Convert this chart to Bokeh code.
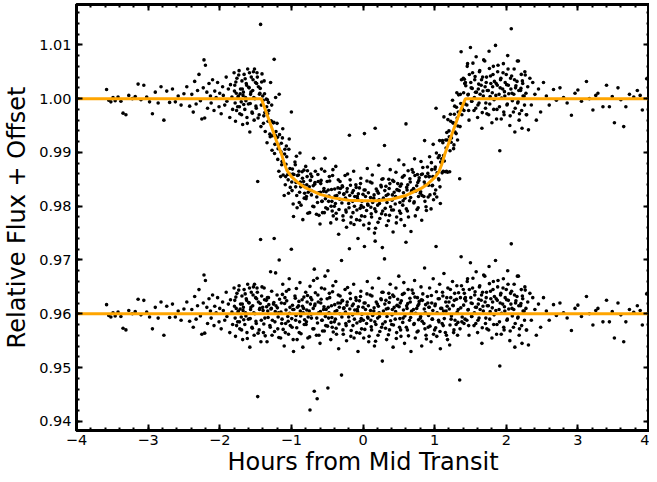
from bokeh.plotting import figure
from bokeh.models import Range1d, LinearAxis, FixedTicker
from bokeh.embed import file_html
from bokeh.resources import INLINE

# ---------------- data ----------------
# block A: sparse pre-transit
time_a = [-3.58,-3.55,-3.52,-3.49,-3.46,-3.42,-3.38,-3.35,-3.31,-3.27,-3.22,-3.18,-3.14,-3.10,-3.06,-3.02,
          -2.98,-2.94,-2.90,-2.86,-2.82,-2.78,-2.74,-2.70,-2.66,-2.62,-2.58,-2.54,-2.50,-2.46,-2.42]
flux_a = [1.0017,0.9997,0.9994,1.0002,0.9996,1.0003,0.9995,0.9973,0.9970,1.0006,1.0000,1.0004,1.0027,0.9998,1.0025,1.0003,
          0.9994,0.9972,1.0012,0.9992,1.0022,0.9960,1.0014,0.9993,1.0018,0.9994,1.0005,0.9988,1.0009,1.0022,0.9986]
resid_a = [0.9617,0.9597,0.9594,0.9602,0.9596,0.9603,0.9595,0.9573,0.9570,0.9606,0.9600,0.9604,0.9627,0.9598,0.9625,0.9603,
           0.9594,0.9572,0.9612,0.9592,0.9622,0.9560,0.9614,0.9593,0.9618,0.9594,0.9605,0.9588,0.9609,0.9622,0.9586]

# block B: pre-transit
time_b = [-2.39,-2.37,-2.35,-2.33,-2.31,-2.29,-2.27,-2.25,-2.23,-2.22,-2.21,-2.20,-2.18,-2.17,-2.15,-2.13,-2.12,-2.10,
          -2.08,-2.07,-2.05,-2.03,-2.01,-2.00,-1.98,-1.96,-1.95,-1.93,-1.91,-1.90,-1.88,-1.86,-1.85,-1.83,-1.82,-1.80]
flux_b = [1.0008,0.9975,1.0032,0.9990,1.0015,1.0045,0.9996,0.9962,1.0020,1.0072,0.9964,1.0062,1.0012,0.9982,1.0028,1.0005,0.9992,1.0035,
          0.9978,1.0014,1.0002,1.0030,0.9985,1.0010,0.9972,1.0022,1.0006,0.9988,1.0040,0.9995,1.0018,0.9965,1.0026,1.0003,0.9980,1.0048]
resid_b = [0.9608,0.9575,0.9632,0.9590,0.9615,0.9645,0.9596,0.9562,0.9620,0.9672,0.9564,0.9662,0.9612,0.9582,0.9628,0.9605,0.9592,0.9635,
           0.9578,0.9614,0.9602,0.9630,0.9585,0.9610,0.9572,0.9622,0.9606,0.9588,0.9640,0.9595,0.9618,0.9565,0.9626,0.9603,0.9580,0.9648]

# block C: just before ingress
time_c = [-1.79,-1.78,-1.77,-1.76,-1.75,-1.74,-1.73,-1.72,-1.71,-1.70,-1.69,-1.68,-1.67,-1.66,-1.65,-1.64,-1.63,-1.62,-1.61,-1.60,
          -1.59,-1.58,-1.57,-1.56,-1.55,-1.54,-1.53,-1.52,-1.51,-1.50,-1.49,-1.48,-1.47,-1.46,-1.45,-1.44,-1.43,-1.42,-1.41]
flux_c = [1.0025,0.9958,1.0010,1.0038,0.9985,1.0005,1.0052,0.9972,1.0018,0.9994,1.0033,0.9952,1.0012,1.0045,0.9980,1.0002,1.0028,0.9965,1.0055,0.9990,
          1.0020,0.9938,1.0008,1.0040,0.9975,1.0015,1.0050,0.9960,1.0000,1.0030,0.9982,1.0048,0.9846,1.0022,0.9970,1.0010,1.0138,0.9988,1.0046]
resid_c = [0.9625,0.9558,0.9610,0.9638,0.9585,0.9605,0.9652,0.9572,0.9618,0.9594,0.9633,0.9552,0.9612,0.9645,0.9580,0.9602,0.9628,0.9565,0.9655,0.9590,
           0.9620,0.9538,0.9608,0.9640,0.9575,0.9615,0.9650,0.9560,0.9600,0.9630,0.9582,0.9648,0.9446,0.9622,0.9570,0.9610,0.9738,0.9588,0.9650]

# block D: ingress, in transit, egress
time_d = [-1.40,-1.39,-1.38,-1.37,-1.35,-1.34,-1.33,-1.32,
          -1.30,-1.29,-1.28,-1.27,-1.25,-1.24,-1.23,-1.22,
          -1.20,-1.19,-1.18,-1.17,-1.15,-1.14,-1.13,-1.12,
          -1.10,-1.09,-1.08,-1.07,-1.05,-1.04,-1.03,-1.02,
          -1.00,-0.99,-0.98,-0.97,-0.95,-0.94,-0.93,-0.92,
          -0.90,-0.89,-0.88,-0.87,-0.85,-0.84,-0.83,-0.82,
          -0.80,-0.79,-0.78,-0.77,-0.75,-0.74,-0.73,-0.72,
          -0.70,-0.69,-0.68,-0.67,-0.65,-0.64,-0.63,-0.62,
          -0.60,-0.59,-0.58,-0.57,-0.55,-0.54,-0.53,-0.52,
          -0.50,-0.49,-0.48,-0.47,-0.45,-0.44,-0.43,-0.42,
          -0.40,-0.39,-0.38,-0.37,-0.35,-0.34,-0.33,-0.32,
          -0.30,-0.29,-0.28,-0.27,-0.25,-0.24,-0.23,-0.22,
          -0.20,-0.19,-0.18,-0.17,-0.15,-0.14,-0.13,-0.12,
          -0.10,-0.09,-0.08,-0.07,-0.05,-0.04,-0.03,-0.02,
          0.00,0.01,0.02,0.03,0.05,0.06,0.07,0.08,
          0.10,0.11,0.12,0.13,0.15,0.16,0.17,0.18,
          0.20,0.21,0.22,0.23,0.25,0.26,0.27,0.28,
          0.30,0.31,0.32,0.33,0.35,0.36,0.37,0.38,
          0.40,0.41,0.42,0.43,0.45,0.46,0.47,0.48,
          0.50,0.51,0.52,0.53,0.55,0.56,0.57,0.58,
          0.60,0.61,0.62,0.63,0.65,0.66,0.67,0.68,
          0.70,0.71,0.72,0.73,0.75,0.76,0.77,0.78,
          0.80,0.81,0.82,0.83,0.85,0.86,0.87,0.88,
          0.90,0.91,0.92,0.93,0.95,0.96,0.97,0.98,
          1.00,1.01,1.02,1.03,1.05,1.06,1.07,1.08,
          1.10,1.11,1.12,1.13,1.15,1.16,1.17,1.18,
          1.20,1.21,1.22,1.23,1.25,1.26,1.27,1.28,
          1.30,1.31,1.32,1.33,1.35,1.36,1.37,1.38,
          1.40,1.41,1.42]
flux_d = [1.0005,0.9954,1.0033,0.9974,0.9999,0.9918,0.9972,0.9993,
          0.9934,1.0030,0.9958,0.9904,0.9955,1.0073,0.9915,1.0002,
          0.9954,0.9887,0.9913,1.0008,0.9855,0.9917,0.9883,0.9944,
          0.9820,0.9906,0.9855,0.9912,0.9859,0.9824,0.9925,0.9870,
          0.9975,0.9829,0.9860,0.9781,0.9882,0.9836,0.9893,0.9797,
          0.9858,0.9807,0.9899,0.9836,0.9864,0.9775,0.9846,0.9815,
          0.9874,0.9818,0.9855,0.9787,0.9836,0.9651,0.9860,0.9821,
          0.9800,0.9889,0.9683,0.9844,0.9785,0.9666,0.9859,0.9825,
          0.9767,0.9842,0.9869,0.9809,0.9828,0.9788,0.9889,0.9797,
          0.9846,0.9680,0.9809,0.9855,0.9769,0.9831,0.9791,0.9868,
          0.9800,0.9819,0.9874,0.9776,0.9834,0.9748,0.9825,0.9846,
          0.9699,0.9838,0.9782,0.9822,0.9857,0.9793,0.9761,0.9833,
          0.9805,0.9932,0.9849,0.9769,0.9825,0.9788,0.9865,0.9800,
          0.9840,0.9775,0.9818,0.9740,0.9834,0.9796,0.9852,0.9782,
          0.9822,0.9765,0.9935,0.9830,0.9792,0.9870,0.9802,0.9758,
          0.9845,0.9798,0.9780,0.9858,0.9815,0.9750,0.9945,0.9790,
          0.9828,0.9770,0.9876,0.9805,0.9839,0.9786,0.9723,0.9851,
          0.9913,0.9796,0.9837,0.9764,0.9822,0.9850,0.9783,0.9868,
          0.9793,0.9821,0.9752,0.9846,0.9804,0.9863,0.9780,0.9830,
          0.9886,0.9791,0.9837,0.9775,0.9854,0.9810,0.9877,0.9764,
          0.9953,0.9835,0.9791,0.9866,0.9810,0.9845,0.9753,0.9829,
          0.9863,0.9806,0.9888,0.9782,0.9838,0.9859,0.9797,0.9848,
          0.9824,0.9883,0.9774,0.9860,0.9818,0.9922,0.9840,0.9799,
          0.9873,0.9817,0.9855,0.9892,0.9795,0.9868,0.9839,0.9915,
          0.9823,0.9873,0.9982,0.9817,0.9890,0.9849,0.9922,0.9805,
          0.9888,0.9922,0.9865,0.9966,0.9864,0.9908,0.9937,0.9863,
          0.9940,0.9864,0.9971,0.9919,0.9997,0.9955,0.9914,0.9986,
          0.9935,1.0011,0.9923,0.9975,0.9851,1.0008,1.0087,0.9970,
          1.0038,0.9978,1.0028]
resid_d = [0.9612,0.9565,0.9648,0.9592,0.9625,0.9548,0.9605,0.9630,
           0.9578,0.9678,0.9610,0.9560,0.9618,0.9740,0.9585,0.9676,
           0.9635,0.9572,0.9602,0.9700,0.9555,0.9620,0.9590,0.9655,
           0.9540,0.9630,0.9582,0.9642,0.9595,0.9562,0.9665,0.9612,
           0.9720,0.9575,0.9608,0.9530,0.9633,0.9588,0.9647,0.9552,
           0.9615,0.9565,0.9658,0.9596,0.9626,0.9538,0.9610,0.9580,
           0.9640,0.9585,0.9622,0.9555,0.9605,0.9421,0.9630,0.9592,
           0.9572,0.9662,0.9456,0.9618,0.9560,0.9442,0.9635,0.9602,
           0.9545,0.9620,0.9648,0.9588,0.9608,0.9568,0.9670,0.9578,
           0.9628,0.9462,0.9592,0.9638,0.9552,0.9615,0.9575,0.9652,
           0.9585,0.9604,0.9660,0.9562,0.9620,0.9535,0.9612,0.9633,
           0.9486,0.9625,0.9570,0.9610,0.9645,0.9582,0.9550,0.9622,
           0.9594,0.9721,0.9638,0.9558,0.9615,0.9578,0.9655,0.9590,
           0.9630,0.9565,0.9608,0.9530,0.9624,0.9586,0.9642,0.9572,
           0.9612,0.9555,0.9725,0.9620,0.9582,0.9660,0.9592,0.9548,
           0.9635,0.9588,0.9570,0.9648,0.9605,0.9540,0.9735,0.9580,
           0.9618,0.9560,0.9666,0.9595,0.9628,0.9575,0.9512,0.9640,
           0.9702,0.9585,0.9625,0.9552,0.9610,0.9638,0.9570,0.9655,
           0.9580,0.9608,0.9538,0.9632,0.9590,0.9648,0.9565,0.9615,
           0.9670,0.9575,0.9620,0.9558,0.9636,0.9592,0.9658,0.9545,
           0.9733,0.9615,0.9570,0.9645,0.9588,0.9622,0.9530,0.9605,
           0.9638,0.9580,0.9662,0.9555,0.9610,0.9630,0.9568,0.9618,
           0.9592,0.9650,0.9540,0.9625,0.9582,0.9685,0.9602,0.9560,
           0.9632,0.9575,0.9612,0.9648,0.9548,0.9620,0.9590,0.9665,
           0.9570,0.9618,0.9725,0.9558,0.9628,0.9585,0.9655,0.9535,
           0.9610,0.9640,0.9578,0.9675,0.9565,0.9605,0.9630,0.9552,
           0.9622,0.9542,0.9645,0.9590,0.9660,0.9615,0.9570,0.9638,
           0.9580,0.9652,0.9560,0.9608,0.9477,0.9630,0.9706,0.9585,
           0.9645,0.9582,0.9628]

# block E: after egress
time_e = [1.43,1.45,1.46,1.47,1.48,1.50,1.51,1.52,1.53,
          1.55,1.56,1.57,1.58,1.60,1.61,1.62,1.63,
          1.65,1.66,1.67,1.68,1.70,1.71,1.72,1.73,
          1.75,1.76,1.77,1.78,1.80,1.81,1.82,1.83,
          1.85,1.86,1.87,1.88,1.90,1.91,1.92,1.93,
          1.95,1.96,1.97,1.98,2.00,2.01,2.02,2.03,
          2.05,2.06,2.07,2.08,2.10,2.11,2.12,2.13,
          2.15,2.16,2.17,2.18,2.20,2.21,2.22,2.23,
          2.25,2.26,2.28,2.30,2.31,2.33,
          2.35,2.37,2.40,2.42,2.45]
flux_e = [1.0030,0.9988,1.0065,1.0008,0.9960,1.0095,1.0020,0.9995,1.0048,
          0.9978,1.0035,1.0012,1.0078,0.9965,1.0018,0.9992,1.0052,
          1.0025,0.9945,1.0040,1.0005,1.0070,0.9982,1.0030,0.9972,
          1.0015,1.0088,0.9990,1.0042,0.9955,1.0022,1.0060,0.9998,
          1.0099,1.0028,0.9980,1.0050,1.0008,0.9903,1.0035,0.9962,
          1.0018,1.0065,0.9970,1.0005,1.0045,0.9988,1.0080,1.0025,
          0.9950,1.0038,1.0130,1.0010,0.9975,1.0055,0.9938,1.0020,
          1.0032,0.9992,1.0070,0.9960,1.0015,1.0045,0.9945,1.0028,
          1.0005,1.0050,0.9970,1.0022,0.9942,1.0038,
          0.9988,1.0030,1.0008,0.9960,1.0018]
resid_e = [0.9630,0.9588,0.9665,0.9608,0.9560,0.9695,0.9620,0.9595,0.9648,
           0.9578,0.9635,0.9612,0.9678,0.9565,0.9618,0.9592,0.9652,
           0.9625,0.9545,0.9640,0.9605,0.9670,0.9582,0.9630,0.9572,
           0.9615,0.9688,0.9590,0.9642,0.9555,0.9622,0.9660,0.9598,
           0.9699,0.9628,0.9580,0.9650,0.9608,0.9503,0.9635,0.9562,
           0.9618,0.9665,0.9570,0.9605,0.9645,0.9588,0.9680,0.9625,
           0.9550,0.9638,0.9730,0.9610,0.9575,0.9655,0.9538,0.9620,
           0.9632,0.9592,0.9670,0.9560,0.9615,0.9645,0.9545,0.9628,
           0.9605,0.9650,0.9570,0.9622,0.9542,0.9638,
           0.9588,0.9630,0.9608,0.9560,0.9618]

# block F: sparse post-transit
time_f = [2.48,2.52,2.56,2.60,2.66,2.70,2.75,2.80,2.85,2.91,2.96,3.00,3.05,3.12,3.16,3.21,3.25,
          3.28,3.35,3.40,3.44,3.48,3.51,3.56,3.60,3.64,3.67,3.72,3.78,3.83,3.87,3.90,3.96]
flux_f = [0.9975,1.0030,1.0005,0.9988,1.0017,0.9997,1.0020,1.0002,0.9992,0.9969,1.0010,1.0016,0.9995,1.0032,1.0000,0.9979,1.0006,
          1.0010,0.9985,1.0025,0.9985,1.0004,0.9955,1.0020,0.9998,0.9948,0.9985,1.0008,1.0003,1.0015,1.0006,0.9979,1.0037]
resid_f = [0.9575,0.9630,0.9605,0.9588,0.9617,0.9597,0.9620,0.9602,0.9592,0.9569,0.9610,0.9616,0.9595,0.9632,0.9600,0.9579,0.9606,
           0.9610,0.9585,0.9625,0.9585,0.9604,0.9555,0.9620,0.9598,0.9548,0.9585,0.9608,0.9603,0.9615,0.9606,0.9579,0.9637]

# block G: second (interleaved) visit across the dense part
time_g = [-1.795,-1.785,-1.775,-1.765,-1.745,-1.735,-1.725,-1.715,
          -1.695,-1.685,-1.675,-1.665,-1.645,-1.635,-1.625,-1.615,
          -1.595,-1.585,-1.575,-1.565,-1.545,-1.535,-1.525,-1.515,
          -1.495,-1.485,-1.475,-1.465,-1.445,-1.435,-1.425,-1.415,
          -1.395,-1.385,-1.375,-1.365,-1.345,-1.335,-1.325,-1.315,
          -1.295,-1.285,-1.275,-1.265,-1.245,-1.235,-1.225,-1.215,
          -1.195,-1.185,-1.175,-1.165,-1.145,-1.135,-1.125,-1.115,
          -1.095,-1.085,-1.075,-1.065,-1.045,-1.035,-1.025,-1.015,
          -0.995,-0.985,-0.975,-0.965,-0.945,-0.935,-0.925,-0.915,
          -0.895,-0.885,-0.875,-0.865,-0.845,-0.835,-0.825,-0.815,
          -0.795,-0.785,-0.775,-0.765,-0.745,-0.735,-0.725,-0.715,
          -0.695,-0.685,-0.675,-0.665,-0.645,-0.635,-0.625,-0.615,
          -0.595,-0.585,-0.575,-0.565,-0.545,-0.535,-0.525,-0.515,
          -0.495,-0.485,-0.475,-0.465,-0.445,-0.435,-0.425,-0.415,
          -0.395,-0.385,-0.375,-0.365,-0.345,-0.335,-0.325,-0.315,
          -0.295,-0.285,-0.275,-0.265,-0.245,-0.235,-0.225,-0.215,
          -0.195,-0.185,-0.175,-0.165,-0.145,-0.135,-0.125,-0.115,
          -0.095,-0.085,-0.075,-0.065,-0.045,-0.035,-0.025,-0.015,
          0.005,0.015,0.025,0.035,0.055,0.065,0.075,0.085,
          0.105,0.115,0.125,0.135,0.155,0.165,0.175,0.185,
          0.205,0.215,0.225,0.235,0.255,0.265,0.275,0.285,
          0.305,0.315,0.325,0.335,0.355,0.365,0.375,0.385,
          0.405,0.415,0.425,0.435,0.455,0.465,0.475,0.485,
          0.505,0.515,0.525,0.535,0.555,0.565,0.575,0.585,
          0.605,0.615,0.625,0.635,0.655,0.665,0.675,0.685,
          0.705,0.715,0.725,0.735,0.755,0.765,0.775,0.785,
          0.805,0.815,0.825,0.835,0.855,0.865,0.875,0.885,
          0.905,0.915,0.925,0.935,0.955,0.965,0.975,0.985,
          1.005,1.015,1.025,1.035,1.055,1.065,1.075,1.085,
          1.105,1.115,1.125,1.135,1.155,1.165,1.175,1.185,
          1.205,1.215,1.225,1.235,1.255,1.265,1.275,1.285,
          1.305,1.315,1.325,1.335,1.355,1.365,1.375,1.385,
          1.405,1.415,1.425,1.435,1.455,1.465,1.475,1.485,
          1.505,1.515,1.525,1.535,1.555,1.565,1.575,1.585,
          1.605,1.615,1.625,1.635,1.655,1.665,1.675,1.685,
          1.705,1.715,1.725,1.735,1.755,1.765,1.775,1.785,
          1.805,1.815,1.825,1.835,1.855,1.865,1.875,1.885,
          1.905,1.915,1.925,1.935,1.955,1.965,1.975,1.985,
          2.005,2.015,2.025,2.035,2.055,2.065,2.075,2.085,
          2.105,2.115,2.125,2.135,2.155,2.165,2.175,2.185,
          2.205,2.215,2.225,2.235,2.255,2.265,2.275,2.285]
flux_g = [1.0014,0.9992,1.0031,0.9978,1.0003,1.0044,0.9985,1.0009,
          0.9970,1.0018,1.0006,0.9989,1.0037,0.9996,1.0025,0.9954,
          1.0021,1.0048,0.9991,1.0012,0.9973,1.0035,1.0002,1.0055,
          0.9986,1.0028,1.0040,0.9964,1.0008,1.0019,0.9948,1.0031,
          0.9997,0.9968,1.0009,0.9939,0.9985,0.9998,0.9958,0.9978,
          0.9929,0.9959,0.9988,0.9931,0.9956,0.9898,0.9932,0.9939,
          0.9928,0.9907,0.9865,0.9933,0.9901,0.9877,0.9927,0.9858,
          0.9897,0.9840,0.9878,0.9892,0.9849,0.9906,0.9860,0.9835,
          0.9845,0.9869,0.9804,0.9859,0.9877,0.9844,0.9820,0.9857,
          0.9865,0.9826,0.9845,0.9802,0.9852,0.9839,0.9867,0.9824,
          0.9814,0.9840,0.9866,0.9826,0.9788,0.9848,0.9829,0.9855,
          0.9838,0.9799,0.9841,0.9865,0.9817,0.9807,0.9846,0.9783,
          0.9826,0.9848,0.9809,0.9788,0.9833,0.9865,0.9814,0.9827,
          0.9795,0.9830,0.9819,0.9847,0.9800,0.9809,0.9857,0.9782,
          0.9832,0.9805,0.9787,0.9820,0.9849,0.9794,0.9813,0.9833,
          0.9806,0.9836,0.9774,0.9823,0.9815,0.9789,0.9827,0.9860,
          0.9797,0.9820,0.9839,0.9780,0.9809,0.9829,0.9766,0.9818,
          0.9835,0.9793,0.9814,0.9823,0.9774,0.9842,0.9801,0.9809,
          0.9798,0.9830,0.9781,0.9818,0.9847,0.9804,0.9825,0.9768,
          0.9816,0.9786,0.9843,0.9807,0.9821,0.9795,0.9759,0.9832,
          0.9802,0.9824,0.9812,0.9777,0.9836,0.9850,0.9791,0.9815,
          0.9829,0.9784,0.9820,0.9807,0.9773,0.9833,0.9842,0.9799,
          0.9811,0.9848,0.9793,0.9826,0.9818,0.9769,0.9831,0.9842,
          0.9829,0.9807,0.9787,0.9841,0.9802,0.9825,0.9857,0.9815,
          0.9795,0.9830,0.9840,0.9780,0.9851,0.9816,0.9826,0.9868,
          0.9833,0.9808,0.9857,0.9828,0.9794,0.9844,0.9818,0.9853,
          0.9827,0.9859,0.9820,0.9872,0.9845,0.9809,0.9855,0.9792,
          0.9861,0.9839,0.9855,0.9821,0.9881,0.9838,0.9855,0.9812,
          0.9869,0.9830,0.9899,0.9862,0.9851,0.9894,0.9836,0.9882,
          0.9862,0.9918,0.9894,0.9884,0.9923,0.9865,0.9923,0.9961,
          0.9929,0.9903,0.9958,0.9927,0.9955,0.9907,0.9971,0.9938,
          0.9984,0.9964,0.9949,1.0007,0.9948,0.9991,1.0035,0.9981,
          1.0011,1.0036,0.9990,1.0024,1.0060,1.0007,0.9978,1.0045,
          1.0030,0.9995,1.0019,1.0066,1.0002,1.0041,0.9982,1.0012,
          0.9988,1.0027,1.0050,1.0008,1.0035,0.9974,1.0014,1.0072,
          1.0022,0.9992,1.0040,1.0015,0.9970,1.0056,1.0004,1.0028,
          1.0011,1.0045,0.9980,1.0032,1.0006,0.9962,1.0025,1.0062,
          0.9985,1.0020,1.0038,1.0001,1.0048,0.9975,1.0013,1.0030,
          1.0026,0.9990,1.0055,1.0009,0.9968,1.0018,1.0042,0.9996,
          1.0008,1.0035,0.9982,1.0024,1.0070,0.9994,1.0015,0.9972,
          1.0019,0.9978,1.0033,1.0005,0.9988,1.0044,1.0010,0.9970]
resid_g = [0.9614,0.9592,0.9631,0.9578,0.9603,0.9644,0.9585,0.9609,
           0.9570,0.9618,0.9606,0.9589,0.9637,0.9596,0.9625,0.9554,
           0.9621,0.9648,0.9591,0.9612,0.9573,0.9635,0.9602,0.9655,
           0.9586,0.9628,0.9640,0.9564,0.9608,0.9619,0.9548,0.9633,
           0.9606,0.9581,0.9626,0.9559,0.9613,0.9630,0.9593,0.9617,
           0.9575,0.9609,0.9642,0.9588,0.9621,0.9567,0.9604,0.9615,
           0.9611,0.9594,0.9556,0.9627,0.9603,0.9582,0.9636,0.9571,
           0.9619,0.9565,0.9607,0.9624,0.9586,0.9645,0.9601,0.9578,
           0.9591,0.9616,0.9552,0.9608,0.9629,0.9597,0.9574,0.9612,
           0.9623,0.9585,0.9605,0.9563,0.9614,0.9602,0.9631,0.9589,
           0.9580,0.9607,0.9634,0.9594,0.9557,0.9618,0.9599,0.9626,
           0.9610,0.9572,0.9615,0.9639,0.9592,0.9583,0.9622,0.9560,
           0.9604,0.9627,0.9588,0.9568,0.9613,0.9646,0.9595,0.9608,
           0.9577,0.9612,0.9602,0.9630,0.9584,0.9593,0.9641,0.9566,
           0.9617,0.9590,0.9573,0.9606,0.9635,0.9581,0.9600,0.9620,
           0.9594,0.9624,0.9562,0.9611,0.9603,0.9578,0.9616,0.9649,
           0.9586,0.9609,0.9628,0.9569,0.9598,0.9618,0.9555,0.9607,
           0.9625,0.9583,0.9604,0.9613,0.9564,0.9632,0.9591,0.9599,
           0.9588,0.9620,0.9571,0.9608,0.9637,0.9594,0.9615,0.9558,
           0.9606,0.9576,0.9633,0.9597,0.9611,0.9585,0.9549,0.9622,
           0.9592,0.9614,0.9602,0.9567,0.9626,0.9640,0.9581,0.9605,
           0.9618,0.9573,0.9609,0.9595,0.9561,0.9621,0.9630,0.9587,
           0.9598,0.9635,0.9579,0.9612,0.9604,0.9554,0.9616,0.9627,
           0.9613,0.9591,0.9570,0.9624,0.9584,0.9607,0.9638,0.9596,
           0.9575,0.9610,0.9619,0.9559,0.9629,0.9593,0.9603,0.9644,
           0.9608,0.9582,0.9631,0.9601,0.9566,0.9615,0.9589,0.9623,
           0.9595,0.9626,0.9586,0.9637,0.9609,0.9572,0.9617,0.9553,
           0.9620,0.9597,0.9612,0.9577,0.9634,0.9590,0.9606,0.9562,
           0.9615,0.9574,0.9641,0.9602,0.9588,0.9628,0.9567,0.9610,
           0.9582,0.9633,0.9605,0.9591,0.9622,0.9560,0.9614,0.9648,
           0.9609,0.9579,0.9630,0.9596,0.9616,0.9565,0.9625,0.9588,
           0.9627,0.9603,0.9584,0.9639,0.9572,0.9611,0.9652,0.9594,
           0.9616,0.9638,0.9590,0.9624,0.9660,0.9607,0.9578,0.9645,
           0.9630,0.9595,0.9619,0.9666,0.9602,0.9641,0.9582,0.9612,
           0.9588,0.9627,0.9650,0.9608,0.9635,0.9574,0.9614,0.9672,
           0.9622,0.9592,0.9640,0.9615,0.9570,0.9656,0.9604,0.9628,
           0.9611,0.9645,0.9580,0.9632,0.9606,0.9562,0.9625,0.9662,
           0.9585,0.9620,0.9638,0.9601,0.9648,0.9575,0.9613,0.9630,
           0.9626,0.9590,0.9655,0.9609,0.9568,0.9618,0.9642,0.9596,
           0.9608,0.9635,0.9582,0.9624,0.9670,0.9594,0.9615,0.9572,
           0.9619,0.9578,0.9633,0.9605,0.9588,0.9644,0.9610,0.9570]

# transit model (orange curve) and flat residual model
model_time = [-4.0,-1.42,-1.35,-1.28,-1.21,-1.14,-1.10,-1.06,-1.00,-0.90,-0.80,-0.60,-0.40,-0.20,0.00,
              0.20,0.40,0.60,0.80,0.90,1.00,1.06,1.10,1.14,1.21,1.28,1.35,1.43,4.0]
model_flux = [1.0,1.0,0.9974,0.9948,0.9922,0.9898,0.9880,0.9866,0.9855,0.9843,0.9834,0.9822,0.9815,0.9811,0.9810,
              0.9810,0.9813,0.9820,0.9832,0.9841,0.9853,0.9864,0.9878,0.9896,0.9922,0.9948,0.9974,1.0,1.0]
flat_time = [-4.0, 4.0]
flat_flux = [0.96, 0.96]

x_ticks = [-4, -3, -2, -1, 0, 1, 2, 3, 4]
x_labels = ["\u22124", "\u22123", "\u22122", "\u22121", "0", "1", "2", "3", "4"]
y_ticks = [0.94, 0.95, 0.96, 0.97, 0.98, 0.99, 1.00, 1.01]
y_labels = ["0.94", "0.95", "0.96", "0.97", "0.98", "0.99", "1.00", "1.01"]

time_all = time_a + time_b + time_c + time_d + time_e + time_f + time_g
flux_all = flux_a + flux_b + flux_c + flux_d + flux_e + flux_f + flux_g
resid_all = resid_a + resid_b + resid_c + resid_d + resid_e + resid_f + resid_g

# ---------------- figure ----------------
FONT = "DejaVu Sans"
p = figure(width=649, height=478, x_range=Range1d(-4, 4), y_range=Range1d(0.9383, 1.0175),
           output_backend="svg", toolbar_location=None,
           min_border_left=66, min_border_right=0, min_border_top=4, min_border_bottom=0)
p.xgrid.visible = False
p.ygrid.visible = False
p.outline_line_color = "black"
p.outline_line_width = 3
p.background_fill_color = "white"
p.border_fill_color = "white"

x_minor = [round(-4 + 0.2 * i, 2) for i in range(41)]
y_minor = [round(0.938 + 0.002 * i, 3) for i in range(41)]
xt = FixedTicker(ticks=x_ticks, minor_ticks=x_minor)
yt = FixedTicker(ticks=y_ticks, minor_ticks=y_minor)


def style(ax, labels):
    ax.major_tick_in = 6
    ax.major_tick_out = 0
    ax.minor_tick_in = 3
    ax.minor_tick_out = 0
    ax.major_tick_line_width = 2
    ax.minor_tick_line_width = 2
    ax.axis_line_width = 3
    ax.axis_line_color = "black"
    ax.major_label_text_font = FONT
    ax.major_label_text_color = "black"
    ax.major_label_text_font_size = "14.5px" if labels else "0px"
    ax.major_label_standoff = 5 if labels else 0
    ax.axis_label_text_font = FONT
    ax.axis_label_text_font_style = "normal"
    ax.axis_label_text_font_size = "24px"
    ax.axis_label_text_color = "black"


xa = p.xaxis[0]
xa.ticker = xt
xa.major_label_overrides = {t: l for t, l in zip(x_ticks, x_labels)}
xa.axis_label = "Hours from Mid Transit"
style(xa, True)
xa.major_label_standoff = 4
xa.axis_label_standoff = 0

ya = p.yaxis[0]
ya.ticker = yt
ya.major_label_overrides = {t: l for t, l in zip(y_ticks, y_labels)}
ya.axis_label = "Relative Flux + Offset"
style(ya, True)
ya.axis_label_standoff = 5

top = LinearAxis(ticker=xt)
style(top, False)
top.major_label_overrides = {t: "" for t in x_ticks}
p.add_layout(top, "above")
right = LinearAxis(ticker=yt)
style(right, False)
right.major_label_overrides = {t: "" for t in y_ticks}
p.add_layout(right, "right")

p.scatter(time_all, flux_all, size=3.6, fill_color="black", line_color=None)
p.scatter(time_all, resid_all, size=3.6, fill_color="black", line_color=None)
p.line(model_time, model_flux, line_color="#FFA500", line_width=3)
p.line(flat_time, flat_flux, line_color="#FFA500", line_width=3)

open("out.html", "w").write(file_html(p, INLINE))
